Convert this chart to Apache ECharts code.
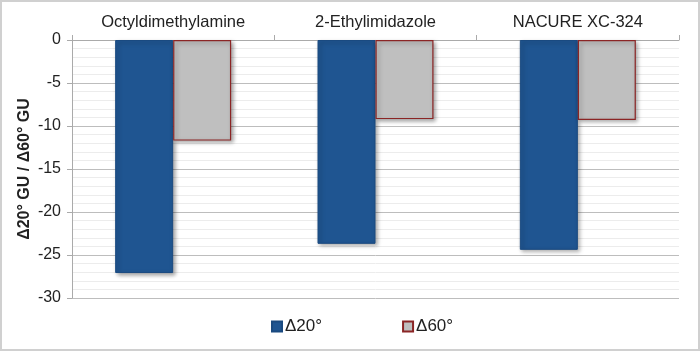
<!DOCTYPE html>
<html><head><meta charset="utf-8">
<script src="https://cdn.jsdelivr.net/npm/echarts@6/dist/echarts.min.js"></script>
<style>html,body{margin:0;padding:0;background:#fff}#c{width:700px;height:351px;box-sizing:border-box;border:2px solid #d0d0d0}</style>
</head><body><div id="c"></div>
<script>
const categories = ['Octyldimethylamine', '2-Ethylimidazole', 'NACURE XC-324'];
const d20 = [-27.1, -23.7, -24.4];
const d60 = [-11.7, -9.2, -9.3];
const yTicks = [0, -5, -10, -15, -20, -25, -30];

const chart = echarts.init(document.getElementById('c'));
const shadow = {shadowColor:'rgba(0,0,0,0.35)', shadowBlur:4, shadowOffsetX:2, shadowOffsetY:2};
chart.setOption({
  animation:false,
  textStyle:{fontFamily:'Liberation Sans, Arial, sans-serif'},
  grid:{left:70, right:19, top:38, bottom:51, containLabel:false},
  legend:{bottom:9, left:264, itemGap:80, itemWidth:10, itemHeight:10,
    textStyle:{fontSize:17, color:'#222', padding:[0,0,0,-2]},
    data:[{name:'Δ20°', icon:'rect'},{name:'Δ60°', icon:'rect'}]},
  xAxis:{type:'category', data:categories, position:'top',
    axisLine:{lineStyle:{color:'#aaa'}},
    axisTick:{show:true, length:5, lineStyle:{color:'#aaa'}},
    axisLabel:{fontSize:16.5, color:'#222', margin:9},
    splitLine:{show:false}},
  yAxis:{type:'value', min:-30, max:0, interval:5,
    name:'Δ20° GU / Δ60° GU', nameLocation:'middle', nameGap:39, nameRotate:90,
    nameMoveOverlap:false,
    nameTextStyle:{fontSize:16, fontWeight:'bold', color:'#222'},
    axisLine:{show:true, lineStyle:{color:'#aaa'}},
    axisTick:{show:true, length:5, lineStyle:{color:'#aaa'}},
    axisLabel:{fontSize:16, color:'#222', margin:11,
      formatter:v => yTicks.includes(v) ? String(v) : ''},
    splitLine:{show:true, lineStyle:{color:'#bdbdbd'}},
    minorTick:{show:false, splitNumber:5},
    minorSplitLine:{show:true, lineStyle:{color:'#ececec'}}},
  series:[
    {name:'Δ20°', type:'bar', data:d20, barWidth:58, barGap:'0%',
      itemStyle:Object.assign({color:'#1f5591', borderColor:'#1a4a80', borderWidth:1}, shadow)},
    {name:'Δ60°', type:'bar', data:d60, barWidth:58, barGap:'0%',
      itemStyle:Object.assign({color:'#bfbfbf', borderColor:'#8b2525', borderWidth:1.2}, shadow)}
  ]
});
</script></body></html>
